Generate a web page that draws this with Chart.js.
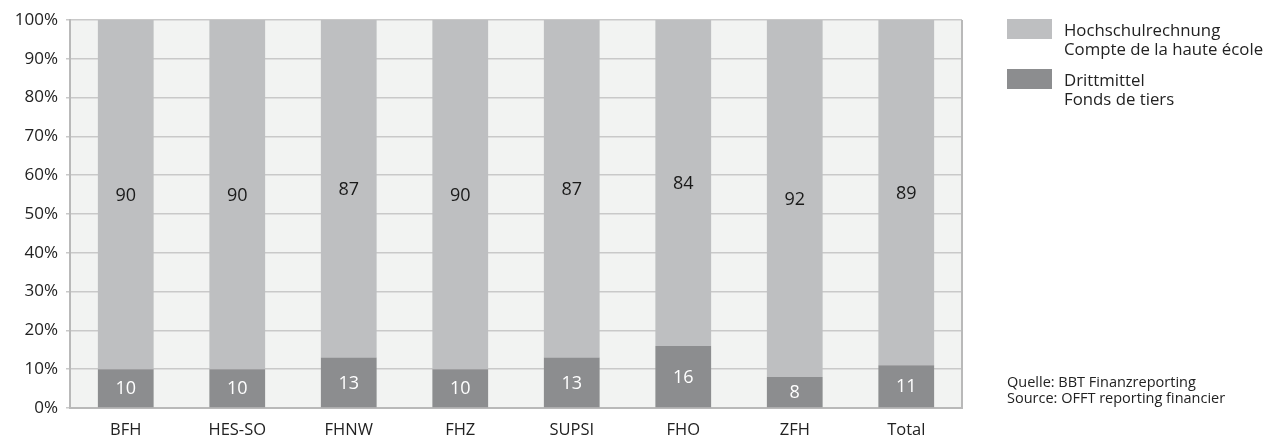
<!DOCTYPE html>
<html>
<head>
<meta charset="utf-8">
<script src="https://cdn.jsdelivr.net/npm/chart.js@4.4.1/dist/chart.umd.min.js"></script>
<style>
  body { margin: 0; background: #fff; font-family: "Open Sans", sans-serif; color: #222; }
  #wrap { position: relative; width: 1281px; height: 440px; }
  #legend { position: absolute; left: 1007px; top: 19px; font-size: 16.8px; line-height: 19px; }
  .item { position: relative; padding-left: 57px; height: 50px; top: 1px; }
  .box { position: absolute; left: 0; top: -1px; width: 45px; height: 20px; }
  #source { position: absolute; left: 1007px; top: 374px; font-size: 14.5px; line-height: 16px; }
</style>
</head>
<body>
<div id="wrap">
  <canvas id="myChart" width="1281" height="440"></canvas>
  <div id="legend">
    <div class="item"><span class="box" style="background:#bebfc1"></span>Hochschulrechnung<br>Compte de la haute école</div>
    <div class="item"><span class="box" style="background:#8c8d8f"></span>Drittmittel<br>Fonds de tiers</div>
  </div>
  <div id="source">Quelle: BBT Finanzreporting<br>Source: OFFT reporting financier</div>
</div>
<script>
var categories = ["BFH", "HES-SO", "FHNW", "FHZ", "SUPSI", "FHO", "ZFH", "Total"];
var drittmittel = [10, 10, 13, 10, 13, 16, 8, 11];
var hochschulrechnung = [90, 90, 87, 90, 87, 84, 92, 89];
var yTicks = [0, 10, 20, 30, 40, 50, 60, 70, 80, 90, 100];

var darkGrey = "#8c8d8f";
var lightGrey = "#bebfc1";

// plot background + right border
var plotBg = {
  id: 'plotBg',
  beforeDraw: function(chart){
    var a = chart.chartArea, ctx = chart.ctx;
    ctx.save();
    ctx.fillStyle = "#f2f3f2";
    ctx.fillRect(a.left, a.top, a.right - a.left, a.bottom - a.top);
    ctx.restore();
  },
  afterDraw: function(chart){
    var a = chart.chartArea, ctx = chart.ctx;
    ctx.save();
    ctx.strokeStyle = "#b9b9b9";
    ctx.lineWidth = 2;
    ctx.beginPath();
    ctx.moveTo(a.right, a.top);
    ctx.lineTo(a.right, a.bottom);
    ctx.stroke();
    ctx.restore();
  }
};

// value labels in the middle of each segment
var valueLabels = {
  id: 'valueLabels',
  afterDatasetsDraw: function(chart){
    var ctx = chart.ctx;
    ctx.save();
    ctx.font = "18px 'Open Sans'";
    ctx.textAlign = "center";
    ctx.textBaseline = "middle";
    chart.data.datasets.forEach(function(ds, i){
      var meta = chart.getDatasetMeta(i);
      meta.data.forEach(function(bar, j){
        ctx.fillStyle = i == 0 ? "#ffffff" : "#1a1a1a";
        var mid = (bar.y + bar.base) / 2;
        ctx.fillText(ds.data[j], bar.x, mid + 1);
      });
    });
    ctx.restore();
  }
};

var ctx = document.getElementById('myChart').getContext('2d');
var chart = new Chart(ctx, {
  type: 'bar',
  data: {
    labels: categories,
    datasets: [{
      label: "Drittmittel",
      data: drittmittel,
      backgroundColor: darkGrey
    },{
      label: "Hochschulrechnung",
      data: hochschulrechnung,
      backgroundColor: lightGrey
    }]
  },
  options: {
    responsive: false,
    animation: false,
    devicePixelRatio: 1,
    layout: { padding: { top: 20, right: 319, left: 0, bottom: 0 } },
    categoryPercentage: 1,
    barPercentage: 0.5,
    plugins: { legend: { display: false }, tooltip: { enabled: false } },
    scales: {
      x: {
        stacked: true,
        grid: { display: false },
        border: { color: "#b9b9b9", width: 2 },
        ticks: { color: "#222", font: { family: "Open Sans", size: 16.5 }, padding: 4 },
        afterFit: function(s){ s.height = 32; }
      },
      y: {
        stacked: true,
        min: 0, max: 100,
        afterBuildTicks: function(s){ s.ticks = yTicks.map(function(v){ return {value: v}; }); },
        grid: { color: "#c9c9c9", lineWidth: 1.5, tickLength: 4 },
        border: { color: "#b9b9b9", width: 2 },
        ticks: {
          color: "#222", font: { family: "Open Sans", size: 17 }, padding: 8,
          callback: function(v){ return v + "%"; }
        },
        afterFit: function(s){ s.width = 70; }
      }
    }
  },
  plugins: [plotBg, valueLabels]
});
</script>
</body>
</html>
